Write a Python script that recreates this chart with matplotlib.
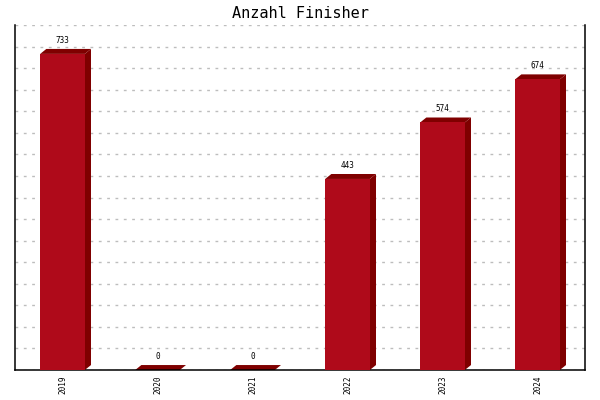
import matplotlib.pyplot as plt
from matplotlib.patches import Polygon

# Daten
jahre = ['2019', '2020', '2021', '2022', '2023', '2024']
finisher = [733, 0, 0, 443, 574, 674]

vorne = '#af0a1a'
dunkel = '#7f0000'
mono = 'DejaVu Sans Mono'

fig = plt.figure(figsize=(6, 4), dpi=100)
ax = fig.add_axes([0.025, 0.075, 0.95, 0.8625])

breite = 0.47
dx = 0.065   # Tiefe nach rechts (Datenkoordinaten)
dy = 11.5    # Tiefe nach oben

x = list(range(len(jahre)))
ax.set_xlim(-0.5, len(jahre) - 0.5)
ax.set_ylim(0, 800)

for xi, v in zip(x, finisher):
    l, r = xi - breite / 2, xi + breite / 2
    # Seite und Deckel
    ax.add_patch(Polygon([(r, 0), (r, v), (r + dx, v + dy), (r + dx, dy)],
                         closed=True, facecolor=dunkel, edgecolor='none', zorder=2))
    ax.add_patch(Polygon([(l, v), (r, v), (r + dx, v + dy), (l + dx, v + dy)],
                         closed=True, facecolor=dunkel, edgecolor='none', zorder=2))
    ax.annotate(str(v), (xi, v + dy), xytext=(0, 3), textcoords='offset points',
                ha='center', va='bottom', fontsize=5.5, family=mono)

ax.bar(x, finisher, width=breite, color=vorne, zorder=3)

# Gitter
ax.set_yticks(range(0, 801, 50))
ax.yaxis.grid(True, color='#bdbdbd', linestyle=(0, (2, 4)), linewidth=1)
ax.set_axisbelow(True)
ax.tick_params(axis='y', length=0, labelleft=False)

ax.set_xticks(x)
ax.set_xticklabels(jahre, rotation=90, fontsize=5.5, family=mono)
ax.tick_params(axis='x', length=0, pad=4)

ax.spines['top'].set_visible(False)
for s in ['left', 'right', 'bottom']:
    ax.spines[s].set_linewidth(1.1)

fig.text(0.5, 0.967, 'Anzahl Finisher', ha='center', va='center',
         fontsize=11, family=mono)

fig.savefig('out.png', dpi=100)
